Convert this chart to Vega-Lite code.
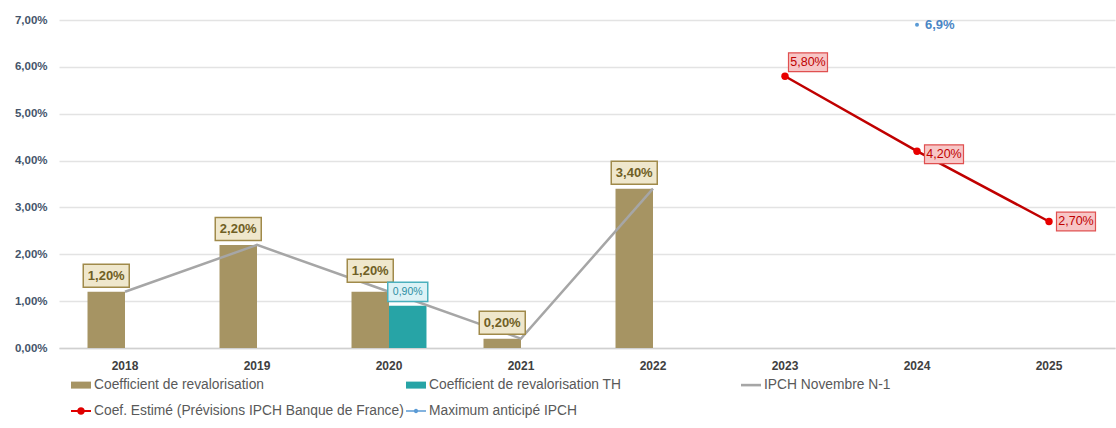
{
  "$schema": "https://vega.github.io/schema/vega-lite/v6.json",
  "width": 1056,
  "height": 328,
  "autosize": "none",
  "padding": {"left": 59, "top": 20, "right": 1, "bottom": 80},
  "background": "white",
  "config": {
    "locale": {"number": {"decimal": ",", "thousands": "\u00a0", "grouping": [3], "currency": ["", "\u00a0€"], "percent": "%"}},
    "font": "Liberation Sans",
    "view": {"stroke": null}
  },
  "datasets": {
    "valeurs": [
      {"annee": "2018", "serie": "Coefficient de revalorisation", "valeur": 0.012},
      {"annee": "2019", "serie": "Coefficient de revalorisation", "valeur": 0.022},
      {"annee": "2020", "serie": "Coefficient de revalorisation", "valeur": 0.012},
      {"annee": "2021", "serie": "Coefficient de revalorisation", "valeur": 0.002},
      {"annee": "2022", "serie": "Coefficient de revalorisation", "valeur": 0.034},
      {"annee": "2020", "serie": "Coefficient de revalorisation TH", "valeur": 0.009},
      {"annee": "2018", "serie": "IPCH Novembre N-1", "valeur": 0.012},
      {"annee": "2019", "serie": "IPCH Novembre N-1", "valeur": 0.022},
      {"annee": "2020", "serie": "IPCH Novembre N-1", "valeur": 0.012},
      {"annee": "2021", "serie": "IPCH Novembre N-1", "valeur": 0.002},
      {"annee": "2022", "serie": "IPCH Novembre N-1", "valeur": 0.034},
      {"annee": "2023", "serie": "Coef. Estimé (Prévisions IPCH Banque de France)", "valeur": 0.058},
      {"annee": "2024", "serie": "Coef. Estimé (Prévisions IPCH Banque de France)", "valeur": 0.042},
      {"annee": "2025", "serie": "Coef. Estimé (Prévisions IPCH Banque de France)", "valeur": 0.027},
      {"annee": "2024", "serie": "Maximum anticipé IPCH", "valeur": 0.069}
    ],
    "legende": [
      {"annee": "2018", "serie": "Coefficient de revalorisation", "valeur": -0.05},
      {"annee": "2018", "serie": "Coefficient de revalorisation TH", "valeur": -0.05},
      {"annee": "2018", "serie": "IPCH Novembre N-1", "valeur": -0.05},
      {"annee": "2018", "serie": "Coef. Estimé (Prévisions IPCH Banque de France)", "valeur": -0.05},
      {"annee": "2018", "serie": "Maximum anticipé IPCH", "valeur": -0.05}
    ]
  },
  "encoding": {
    "x": {
      "field": "annee", "type": "ordinal",
      "scale": {"domain": ["2018", "2019", "2020", "2021", "2022", "2023", "2024", "2025"], "paddingInner": 0.432, "paddingOuter": 0.216},
      "axis": {"title": null, "labelAngle": 0, "ticks": false, "domainColor": "#d0d0d0", "domainWidth": 1.5, "labelFontSize": 12, "labelFontWeight": "bold", "labelColor": "#404040", "labelPadding": 12}
    },
    "y": {
      "field": "valeur", "type": "quantitative",
      "scale": {"domain": [0, 0.07], "nice": false, "zero": true},
      "axis": {"title": null, "format": ".2%", "values": [0, 0.01, 0.02, 0.03, 0.04, 0.05, 0.06, 0.07], "domain": false, "ticks": false, "gridColor": "#e3e3e3", "gridWidth": 1.5, "labelFontSize": 11.5, "labelFontWeight": "bold", "labelColor": "#44546a", "labelPadding": 12}
    }
  },
  "layer": [
    {
      "data": {"name": "valeurs"},
      "transform": [{"filter": "datum.serie == 'Coefficient de revalorisation' || datum.serie == 'Coefficient de revalorisation TH'"}],
      "mark": {"type": "bar"},
      "encoding": {
        "xOffset": {"field": "serie", "scale": {"domain": ["Coefficient de revalorisation", "Coefficient de revalorisation TH"], "paddingInner": 0, "paddingOuter": 0}},
        "color": {"condition": {"test": "datum.serie == 'Coefficient de revalorisation TH'", "value": "#27a4a6"}, "value": "#a69463"}
      }
    },
    {
      "data": {"name": "valeurs"},
      "transform": [{"filter": "datum.serie == 'IPCH Novembre N-1'"}],
      "mark": {"type": "line", "strokeWidth": 2.5, "color": "#a6a6a6"},
      "encoding": {}
    },
    {
      "data": {"name": "valeurs"},
      "transform": [{"filter": "datum.serie == 'Coefficient de revalorisation'"}],
      "mark": {"type": "point", "shape": "M-1,-0.5H1V0.5H-1Z", "size": 2116, "filled": true, "opacity": 1, "fill": "#efe7cc", "stroke": "#a08a4a", "strokeWidth": 1.5, "xOffset": -18.75, "yOffset": {"expr": "datum.annee == '2020' ? -21 : -16"}},
      "encoding": {}
    },
    {
      "data": {"name": "valeurs"},
      "transform": [{"filter": "datum.serie == 'Coefficient de revalorisation'"}],
      "mark": {"type": "text", "fontSize": 13, "fontWeight": "bold", "color": "#6f5f25", "baseline": "middle", "align": "center", "xOffset": -18.75, "yOffset": {"expr": "datum.annee == '2020' ? -21 : -16"}},
      "encoding": {"text": {"field": "valeur", "type": "quantitative", "format": ".2%"}}
    },
    {
      "data": {"name": "valeurs"},
      "transform": [{"filter": "datum.serie == 'Coefficient de revalorisation TH'"}],
      "mark": {"type": "point", "shape": "M-1,-0.48H1V0.48H-1Z", "size": 1600, "filled": true, "opacity": 1, "fill": "#dcf2f6", "stroke": "#4bb0bd", "strokeWidth": 1.5, "xOffset": 18.75, "yOffset": -14},
      "encoding": {}
    },
    {
      "data": {"name": "valeurs"},
      "transform": [{"filter": "datum.serie == 'Coefficient de revalorisation TH'"}],
      "mark": {"type": "text", "fontSize": 10.5, "color": "#2b8fa3", "baseline": "middle", "align": "center", "xOffset": 18.75, "yOffset": -14},
      "encoding": {"text": {"field": "valeur", "type": "quantitative", "format": ".2%"}}
    },
    {
      "data": {"name": "valeurs"},
      "transform": [{"filter": "datum.serie == 'Coef. Estimé (Prévisions IPCH Banque de France)'"}],
      "mark": {"type": "line", "strokeWidth": 2.5, "color": "#c00000"},
      "encoding": {}
    },
    {
      "data": {"name": "valeurs"},
      "transform": [{"filter": "datum.serie == 'Coef. Estimé (Prévisions IPCH Banque de France)'"}],
      "mark": {"type": "point", "shape": "circle", "size": 55, "filled": true, "opacity": 1, "color": "#e80000"},
      "encoding": {}
    },
    {
      "data": {"name": "valeurs"},
      "transform": [{"filter": "datum.serie == 'Coef. Estimé (Prévisions IPCH Banque de France)'"}],
      "mark": {"type": "point", "shape": "M-1,-0.48H1V0.48H-1Z", "size": 1521, "filled": true, "opacity": 1, "fill": "#f7c6c6", "stroke": "#e05050", "strokeWidth": 1.2, "xOffset": {"expr": "datum.annee == '2023' ? 23 : 27"}, "yOffset": {"expr": "datum.annee == '2023' ? -14 : (datum.annee == '2024' ? 3 : 0)"}},
      "encoding": {}
    },
    {
      "data": {"name": "valeurs"},
      "transform": [{"filter": "datum.serie == 'Coef. Estimé (Prévisions IPCH Banque de France)'"}],
      "mark": {"type": "text", "fontSize": 12.5, "color": "#c00000", "baseline": "middle", "align": "center", "xOffset": {"expr": "datum.annee == '2023' ? 23 : 27"}, "yOffset": {"expr": "datum.annee == '2023' ? -14 : (datum.annee == '2024' ? 3 : 0)"}},
      "encoding": {"text": {"field": "valeur", "type": "quantitative", "format": ".2%"}}
    },
    {
      "data": {"name": "valeurs"},
      "transform": [{"filter": "datum.serie == 'Maximum anticipé IPCH'"}],
      "mark": {"type": "point", "shape": "circle", "size": 16, "filled": true, "opacity": 1, "color": "#5b9bd5"},
      "encoding": {}
    },
    {
      "data": {"name": "valeurs"},
      "transform": [{"filter": "datum.serie == 'Maximum anticipé IPCH'"}],
      "mark": {"type": "text", "fontSize": 13, "fontWeight": "bold", "color": "#4a86c5", "baseline": "middle", "align": "left", "dx": 8},
      "encoding": {"text": {"field": "valeur", "type": "quantitative", "format": ".1%"}}
    },
    {
      "data": {"name": "legende"},
      "mark": {"type": "point", "filled": true, "opacity": 1, "clip": true, "strokeWidth": 0},
      "encoding": {
        "color": {"field": "serie", "type": "nominal",
          "scale": {"domain": ["Coefficient de revalorisation", "Coefficient de revalorisation TH", "IPCH Novembre N-1", "Coef. Estimé (Prévisions IPCH Banque de France)", "Maximum anticipé IPCH"], "range": ["#a69463", "#27a4a6", "#a6a6a6", "#e00000", "#5b9bd5"]},
          "legend": {"title": null, "orient": "none", "legendX": 12, "legendY": 355, "direction": "horizontal", "columns": 3, "gridAlign": "all", "columnPadding": 2, "rowPadding": 9, "padding": 0, "symbolSize": 400, "symbolStrokeWidth": 0, "symbolOpacity": 1, "labelFontSize": 13.8, "labelColor": "#595959", "labelOffset": 3, "labelLimit": 500}},
        "shape": {"field": "serie", "type": "nominal",
          "scale": {"domain": ["Coefficient de revalorisation", "Coefficient de revalorisation TH", "IPCH Novembre N-1", "Coef. Estimé (Prévisions IPCH Banque de France)", "Maximum anticipé IPCH"],
            "range": ["M-1,-0.35H1V0.35H-1Z", "M-1,-0.35H1V0.35H-1Z", "M-1,-0.13H1V0.13H-1Z", "M-1,-0.1H1V0.1H-1Z M-0.38,0A0.38,0.38 0 1,1 0.38,0A0.38,0.38 0 1,1 -0.38,0Z", "M-1,-0.07H1V0.07H-1Z M-0.22,0A0.22,0.22 0 1,1 0.22,0A0.22,0.22 0 1,1 -0.22,0Z"]},
          "legend": {"title": null, "orient": "none", "legendX": 12, "legendY": 355, "direction": "horizontal", "columns": 3, "gridAlign": "all", "columnPadding": 2, "rowPadding": 9, "padding": 0, "symbolSize": 400, "symbolStrokeWidth": 0, "symbolOpacity": 1, "labelFontSize": 13.8, "labelColor": "#595959", "labelOffset": 3, "labelLimit": 500}}
      }
    }
  ]
}
